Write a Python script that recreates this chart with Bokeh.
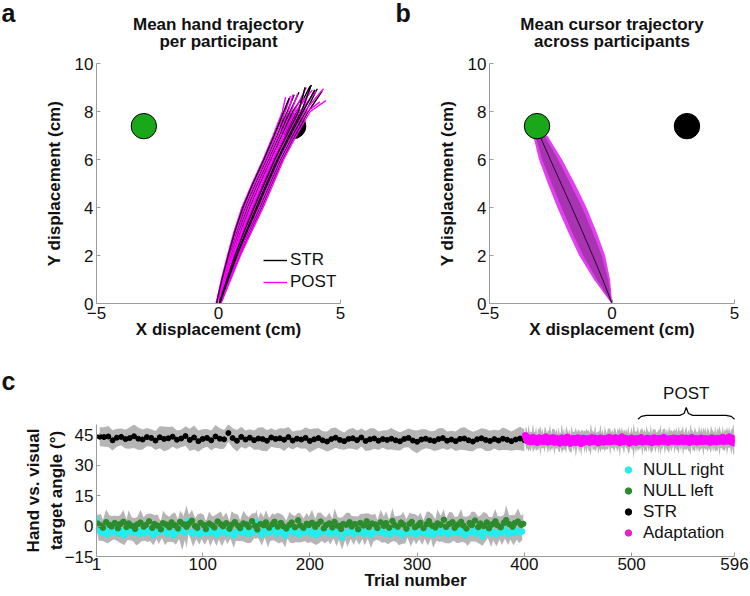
from bokeh.plotting import figure
from bokeh.models import ColumnDataSource, Legend, LegendItem, FixedTicker, Range1d
from bokeh.layouts import column, row
from bokeh.embed import file_html
from bokeh.resources import INLINE
from bokeh.core.properties import value

FONT = "Liberation Sans"

# ---------------- panel a: hand trajectories (x at y = 0..8, then end point) ----------------
hand_y = [0, 1, 2, 3, 4, 5, 6, 7, 8]
str_traj_x = [
    [-0.08, 0.14, 0.40, 0.67, 1.00, 1.41, 1.86, 2.28, 2.68],
    [-0.04, 0.22, 0.51, 0.83, 1.19, 1.61, 2.06, 2.50, 2.93],
    [0.01, 0.32, 0.65, 1.02, 1.42, 1.84, 2.28, 2.75, 3.22],
    [0.05, 0.40, 0.76, 1.17, 1.60, 2.02, 2.45, 2.94, 3.46],
    [0.09, 0.47, 0.86, 1.31, 1.77, 2.19, 2.62, 3.13, 3.68],
    [-0.06, 0.18, 0.46, 0.76, 1.10, 1.52, 1.97, 2.40, 2.82],
    [0.02, 0.34, 0.67, 1.05, 1.46, 1.88, 2.31, 2.79, 3.28],
    [0.07, 0.44, 0.82, 1.25, 1.70, 2.12, 2.55, 3.05, 3.58],
    [-0.02, 0.26, 0.56, 0.90, 1.28, 1.70, 2.14, 2.59, 3.04],
    [0.04, 0.38, 0.73, 1.13, 1.55, 1.97, 2.41, 2.89, 3.40],
]
str_end_x = [2.90, 3.30, 3.75, 3.95, 4.25, 3.10, 3.55, 4.05, 3.45, 3.80]
str_end_y = [8.55, 8.80, 9.05, 8.90, 8.85, 8.70, 9.00, 8.95, 8.60, 9.10]
post_traj_x = [
    [-0.10, 0.12, 0.37, 0.64, 0.96, 1.38, 1.83, 2.24, 2.62],
    [-0.05, 0.20, 0.48, 0.79, 1.14, 1.56, 2.01, 2.44, 2.86],
    [-0.01, 0.28, 0.59, 0.94, 1.32, 1.74, 2.18, 2.64, 3.10],
    [0.03, 0.36, 0.70, 1.09, 1.51, 1.93, 2.36, 2.84, 3.34],
    [0.06, 0.42, 0.79, 1.21, 1.65, 2.07, 2.49, 2.99, 3.52],
    [0.10, 0.50, 0.90, 1.36, 1.83, 2.25, 2.67, 3.19, 3.76],
    [-0.07, 0.16, 0.42, 0.71, 1.05, 1.47, 1.92, 2.34, 2.74],
    [0.00, 0.30, 0.62, 0.98, 1.37, 1.79, 2.23, 2.69, 3.16],
    [0.08, 0.46, 0.84, 1.28, 1.74, 2.16, 2.59, 3.09, 3.64],
    [-0.03, 0.24, 0.54, 0.87, 1.23, 1.65, 2.10, 2.54, 2.98],
    [0.05, 0.39, 0.75, 1.15, 1.58, 2.00, 2.43, 2.92, 3.43],
    [0.02, 0.33, 0.66, 1.04, 1.44, 1.86, 2.30, 2.77, 3.25],
]
post_end_x = [2.75, 3.05, 3.60, 4.00, 4.30, 4.40, 2.95, 3.85, 4.15, 3.25, 3.70, 3.50]
post_end_y = [8.60, 8.70, 9.00, 8.85, 8.95, 8.45, 8.65, 8.90, 8.40, 8.75, 8.80, 8.55]

target_x = [-3.06, 3.06]
target_y = [7.39, 7.39]
target_r = 0.52

# ---------------- panel b: mean cursor trajectory ----------------
cursor_y = [0, 1, 2, 3, 4, 5, 6, 7]
cursor_mean = [0.00, -0.38, -0.79, -1.21, -1.64, -2.08, -2.52, -2.95]
outer_lo = [-0.02, -0.74, -1.34, -1.80, -2.23, -2.62, -2.98, -3.22]
outer_hi = [0.01, -0.08, -0.28, -0.64, -1.04, -1.52, -2.04, -2.64]
inner_lo = [-0.01, -0.62, -1.18, -1.64, -2.06, -2.46, -2.85, -3.13]
inner_hi = [0.00, -0.16, -0.42, -0.80, -1.22, -1.70, -2.20, -2.76]

# ---------------- panel c: angle per trial ----------------
block = ["R", "L", "R", "S", "L", "R", "L", "S"]
xticks_c = [1, 100, 200, 300, 400, 500, 596]
yticks_c = [-15, 0, 15, 30, 45]
post_start, post_end = 506, 596

str_mean = [
    44.0, 43.8, 44.1, 42.2, 43.5, 43.9, 42.8, 43.3, 44.2, 43.0, 42.6, 43.8, 43.4, 42.1, 43.7, 42.9, 43.2, 44.0, 42.5, 43.1,
    44.3, 42.4, 43.6, 41.8, 42.9, 43.4, 42.2, 44.1, 43.0, 42.7, 45.8, 43.3, 42.0, 43.9, 42.6, 43.5, 42.3, 43.1, 42.8, 42.0,
    43.6, 42.9, 43.2, 42.5, 43.8, 42.1, 43.0, 42.6, 43.4, 41.9, 42.7, 43.3, 42.2, 41.6, 42.8, 43.5, 42.4, 41.8, 42.9, 43.2,
    42.3, 43.6, 41.9, 42.7, 43.1, 42.0, 42.8, 42.4, 43.0, 42.2, 41.7, 42.9, 43.4, 42.1, 41.5, 42.6, 43.0, 42.3, 41.9, 42.8,
    43.3, 42.0, 42.6, 41.8, 42.9, 43.1, 42.2, 41.6, 42.7, 43.2, 42.4, 41.9, 42.8, 42.1, 43.0, 42.5, 41.8, 42.6, 43.1, 42.3,
]
str_sd = [
    4.6, 4.8, 5.2, 5.0, 4.4, 4.1, 4.6, 5.3, 5.8, 5.5, 4.9, 4.5, 4.2, 4.7, 5.4, 6.1, 5.6, 5.0, 4.6, 4.3,
    4.8, 5.5, 5.9, 5.2, 4.7, 4.4, 4.9, 5.6, 5.1, 4.6, 4.3, 4.8, 5.3, 5.0, 4.5, 4.2, 4.7, 5.4, 5.8, 5.2,
    4.6, 4.3, 4.9, 5.5, 5.0, 4.4, 4.1, 4.6, 5.2, 5.7, 5.3, 4.8, 4.5, 4.9, 5.4, 5.0, 4.6, 4.2, 4.7, 5.1,
    4.8, 4.4, 4.9, 5.5, 5.1, 4.6, 4.3, 4.8, 5.3, 4.9, 4.5, 4.2, 4.6, 5.2, 5.6, 5.1, 4.7, 4.4, 4.9, 5.4,
    5.0, 4.6, 4.3, 4.8, 5.3, 5.7, 5.2, 4.8, 4.5, 4.9, 5.4, 5.0, 4.6, 4.9, 5.5, 5.1, 4.7, 5.2, 5.8, 5.3,
]
right_mean = [
    3.2, -2.1, -3.5, -1.8, -4.2, -2.6, -3.0, -1.2, -3.8, -2.4, -4.5, -2.9, -1.6, -3.3, -2.7, -4.0, -2.2, -3.6, -1.9, -3.1, -4.4, -2.5, -3.2, -1.4, -2.8,
    -3.9, -2.3, -4.6, -3.0, -1.7, -2.6, -3.4, 2.4, -2.9, -3.7, -2.0, -4.1, -2.8, -3.3, -1.5, -3.6, -2.4, -4.3, -2.7, -3.1, -1.9, -3.8, -2.5, -4.7, -3.0,
    -2.2, -3.5, -1.8, -4.0, -2.6, -3.2, 1.8, -2.9, -4.4, -2.1, -3.6, -2.8, -1.6, -3.9, -2.4, -3.3, -4.8, -2.7, -2.0, -3.5, -2.9, -4.2, -1.7, -3.1, -2.6,
    -3.8, -2.3, -4.5, -2.8, -3.4, -1.9, -3.0, -4.1, -2.5, -3.7, -2.2, -5.6, -2.9, -3.5, -1.8, -4.0, -2.6, -3.2, -2.1, -3.9, -2.7, -4.4, -3.0, -1.6, -3.3,
    -2.4, -3.8, -2.9, -4.2, -2.0, -3.4, -2.7, -4.6, -3.1, -1.8, -3.6, -2.5, -4.0, -2.8, -3.3, -1.5, -3.9, -2.2, -4.3, -3.0, -2.6, -3.7, -2.1, -4.1, -2.8,
    -3.2, -1.9, -3.6, -2.4, -4.5, -2.9, -3.4, -2.0, -3.8, -2.6, -5.2, -3.1, -2.3, -3.7, -2.8, -4.2, -2.5, -3.3, -1.7, -3.9, -2.9, -3.5, -2.2, -3.0, -2.7,
]
right_sd = [
    4.5, 5.2, 3.8, 6.1, 4.4, 5.0, 3.6, 5.7, 4.2, 6.4, 4.8, 3.9, 5.5, 4.1, 6.8, 4.6, 5.3, 3.7, 6.0, 4.3, 5.1, 3.9, 5.8, 4.5, 6.6,
    4.0, 5.4, 3.5, 6.2, 4.7, 9.5, 4.2, 5.6, 3.8, 6.5, 4.4, 5.1, 3.6, 5.9, 4.8, 6.3, 4.1, 5.5, 3.9, 6.7, 4.6, 5.0, 3.7, 6.1, 4.3,
    5.3, 3.9, 6.0, 4.5, 5.6, 3.7, 6.4, 4.2, 5.2, 3.8, 6.9, 4.6, 5.4, 4.0, 6.2, 4.4, 5.8, 3.6, 6.5, 4.7, 5.1, 3.9, 6.1, 4.3, 5.7,
    4.1, 6.3, 4.8, 5.5, 3.8, 6.6, 4.2, 5.0, 3.7, 6.2, 4.5, 5.9, 4.0, 6.8, 4.6, 5.3, 3.9, 6.0, 4.3, 5.6, 3.6, 6.4, 4.8, 5.2, 4.0,
    5.8, 4.2, 6.1, 3.9, 5.4, 4.6, 6.7, 4.1, 5.5, 3.8, 6.3, 4.4, 5.0, 3.7, 6.0, 4.8, 5.7, 4.0, 6.5, 4.3, 5.2, 3.9, 6.2, 4.5, 5.6,
    4.0, 6.4, 4.7, 5.3, 3.8, 6.9, 4.2, 5.6, 3.9, 6.1, 4.5, 5.0, 3.6, 6.6, 4.3, 5.8, 4.1, 6.2, 4.6, 5.4, 3.7, 6.0, 4.4, 5.5, 4.2,
]
left_mean = [
    1.2, 0.3, -0.8, 1.9, 0.6, -0.2, 1.5, -1.1, 0.9, 2.1, -0.5, 1.3, 0.1, -1.4, 0.8, 1.7, -0.3, 0.5, 2.3, -0.9, 1.0, 0.2, -1.6, 1.4, 0.7,
    -0.6, 1.8, 0.4, -1.2, 2.0, 0.9, -0.4, 1.1, 2.6, 0.0, -0.9, 1.6, 0.5, -1.5, 1.2, 0.3, -0.7, 2.2, 0.8, -0.1, 1.4, -1.3, 0.6, 1.9, 0.2,
    -1.0, 1.3, 0.7, -0.5, 2.4, 0.1, -1.7, 1.0, 0.4, 1.8, -0.8, 0.9, 2.1, -0.3, 1.5, 0.0, -1.2, 0.6, 1.7, -0.6, 2.8, 0.3, -0.9, 1.1, 0.5,
    1.6, -0.4, 0.8, 2.2, -1.1, 0.4, 1.3, -0.7, 2.0, 0.2, -1.4, 1.0, 0.6, 1.9, -0.2, 0.9, -1.6, 1.5, 0.3, 2.3, -0.5, 1.2, 0.7, -1.0, 1.8,
    0.1, 1.4, -0.8, 2.5, 0.5, -0.3, 1.7, 0.8, -1.3, 1.1, 2.0, -0.6, 0.4, 1.6, -1.0, 0.9, 2.4, 0.2, -0.7, 1.3, 0.6, 3.1, -0.4, 1.0, 1.9,
    -0.9, 0.7, 2.1, 0.3, -1.2, 1.5, 0.5, 2.7, -0.5, 1.2, 0.0, 1.8, -1.1, 0.8, 2.3, 0.4, -0.6, 1.6, 2.9, 0.9, -0.3, 1.4, 2.2, 0.6, 1.1,
]
left_sd = [
    4.2, 5.6, 3.9, 6.3, 4.7, 5.1, 3.6, 6.0, 4.4, 5.8, 3.8, 6.5, 4.1, 5.3, 3.7, 6.2, 4.6, 5.0, 3.9, 6.8, 4.3, 5.5, 3.6, 6.1, 4.8,
    5.2, 4.0, 6.4, 4.5, 5.7, 3.8, 10.5, 4.2, 5.4, 3.9, 6.6, 4.7, 5.1, 3.7, 6.0, 4.4, 5.9, 4.0, 6.3, 4.6, 5.3, 3.8, 6.7, 4.2, 5.5,
    3.9, 6.2, 4.5, 5.0, 3.7, 6.5, 4.3, 5.8, 4.0, 6.1, 4.7, 5.4, 3.6, 6.9, 4.4, 5.2, 3.9, 6.3, 4.1, 5.6, 3.8, 6.0, 4.6, 5.3, 4.2,
    6.4, 4.0, 5.7, 4.5, 6.1, 3.8, 5.2, 4.3, 6.6, 4.1, 5.5, 3.7, 6.0, 4.6, 5.1, 3.9, 6.3, 4.4, 5.8, 4.0, 6.7, 4.2, 5.4, 3.8, 6.2,
    4.5, 5.9, 3.9, 6.4, 4.2, 5.3, 3.7, 6.1, 4.8, 5.6, 4.0, 6.5, 4.3, 5.0, 3.8, 6.2, 4.6, 5.7, 4.1, 7.0, 4.4, 5.2, 3.9, 6.0, 4.7,
    5.4, 4.1, 6.3, 4.5, 5.8, 3.8, 6.6, 4.2, 5.1, 4.0, 6.9, 4.4, 5.5, 3.7, 6.1, 4.6, 5.3, 4.0, 7.2, 4.3, 5.7, 3.9, 6.4, 4.5, 5.0,
]
adapt_mean = [
    44.5, 42.8, 41.9, 43.3, 42.1, 41.5, 42.9, 43.6, 41.8, 42.4, 43.0, 41.2, 42.7, 43.4, 41.9, 42.3, 43.1, 41.6, 42.5, 43.8, 42.0, 41.4, 42.8, 43.2, 41.7, 42.6, 43.5, 41.3,
    42.2, 43.0, 41.8, 42.7, 40.9, 42.4, 43.3, 41.6, 42.9, 41.1, 42.5, 43.7, 41.9, 42.3, 40.8, 42.6, 43.1, 41.5, 42.8, 41.2, 42.0, 43.4, 41.7, 42.4, 40.7, 42.9, 43.2, 41.4,
    42.6, 41.9, 43.0, 42.2, 41.3, 42.8, 43.5, 41.8, 42.1, 43.2, 41.6, 42.7, 41.0, 42.4, 43.3, 41.9, 42.6, 41.4, 43.0, 42.3, 41.7, 42.9, 43.6, 41.5, 42.2, 43.1, 41.8, 42.5,
    43.4, 41.7, 42.3, 42.9, 41.2, 42.6, 43.8, 42.0, 41.5, 42.8, 43.1, 41.9, 42.4, 40.9, 42.7, 43.3, 41.6, 42.1, 42.9, 41.3, 42.5, 43.0, 41.8, 42.2, 43.5, 41.4, 42.6, 42.0,
    41.7, 42.9, 43.2, 41.5, 42.3, 42.8, 41.1, 42.6, 43.4, 41.9, 42.0, 42.7, 41.4, 43.1, 42.4, 41.8, 42.9, 43.6, 41.6, 42.2, 42.8, 41.3, 42.5, 43.0, 41.9, 42.3, 43.3, 41.7,
    42.6, 43.1, 41.5, 42.4, 42.9, 41.8, 43.4, 42.1, 41.6, 42.7, 43.2, 41.9, 42.3, 41.2, 42.8, 43.5, 42.0, 41.7, 42.6, 43.0, 41.4, 42.4, 42.9, 41.8, 43.3, 42.2, 41.6, 42.7,
    43.0, 41.9, 42.5, 42.8, 41.3, 42.6, 43.4, 41.7, 42.2, 42.9, 41.5, 42.4, 43.1, 41.8, 42.7, 42.0, 43.6, 41.6, 42.3, 42.9, 41.9, 42.5, 43.8, 42.2, 41.4, 43.2, 42.6, 40.9,
]
adapt_sd = [
    4.2, 5.6, 3.5, 6.8, 4.0, 5.1, 3.3, 7.2, 4.6, 3.8, 6.0, 3.4, 5.4, 4.1, 7.5, 3.7, 4.9, 3.2, 6.3, 4.4, 3.6, 5.8, 4.0, 7.0, 3.5, 5.2, 4.3, 6.6,
    3.9, 5.0, 3.4, 6.2, 4.5, 3.6, 7.8, 4.1, 5.3, 3.3, 6.7, 4.0, 3.7, 5.6, 4.2, 6.9, 3.5, 4.8, 3.9, 7.3, 4.3, 3.6, 5.9, 3.8, 6.4, 4.6, 3.4, 5.5,
    4.0, 6.1, 3.7, 5.2, 4.4, 8.2, 3.6, 4.9, 3.9, 6.5, 4.2, 3.5, 5.7, 4.1, 7.1, 3.8, 5.0, 3.4, 6.3, 4.5, 3.7, 5.4, 4.0, 6.8, 3.6, 4.7, 3.9, 6.0,
    4.3, 3.6, 5.8, 4.0, 7.4, 3.7, 5.1, 4.2, 6.2, 3.5, 4.8, 3.9, 6.9, 4.4, 3.6, 5.5, 4.1, 9.0, 3.8, 5.3, 4.0, 6.4, 3.5, 4.9, 4.3, 7.0, 3.7, 5.6,
    4.1, 6.6, 3.8, 5.0, 3.6, 7.2, 4.3, 5.4, 3.9, 6.1, 4.0, 3.5, 5.9, 4.2, 7.6, 3.7, 4.8, 4.0, 6.5, 3.6, 5.2, 4.4, 6.8, 3.8, 5.5, 4.1, 3.6, 6.2,
    3.9, 5.7, 4.2, 6.9, 3.6, 5.1, 4.0, 7.3, 3.8, 4.6, 6.0, 3.5, 5.4, 4.3, 8.0, 3.7, 5.0, 4.1, 6.3, 3.9, 4.8, 3.6, 6.7, 4.2, 5.3, 3.8, 7.1, 4.0,
    5.6, 3.7, 6.2, 4.4, 3.9, 7.0, 4.1, 5.2, 3.6, 6.5, 4.0, 5.8, 3.8, 7.4, 4.3, 3.5, 6.0, 4.2, 5.5, 3.9, 6.9, 4.1, 5.1, 3.7, 6.4, 4.5, 7.8, 4.8,
]

# ---------------- colours ----------------
C_AXIS = "#9c9c9c"
C_TEXT = "#111111"
C_GREEN_T = "#1aa81a"
C_MAG = "#ff00ff"
C_CYAN = "#22eeee"
C_GREEN = "#2a8c2a"
C_BAND = "#b5b5b5"

# ---------------- layout geometry (pixels) ----------------
TOTAL_W = 750
HEAD_H = 53
A_LEFT, A_FRAME, A_RIGHT = 96, 244, 35
B_LEFT, B_FRAME, B_RIGHT = 114, 245, 16
TOP_FRAME_H, TOP_BORDER_T, TOP_BORDER_B = 240, 10, 41
C_LEFT, C_FRAME, C_RIGHT = 96, 638, 16
C_FRAME_H, C_BORDER_B = 132, 38
C_HEAD_H = 80
C_YMIN, C_YMAX = -15, 50


def style(p, xt, yt):
    p.xaxis.ticker = FixedTicker(ticks=xt)
    p.yaxis.ticker = FixedTicker(ticks=yt)
    for ax in (p.xaxis[0], p.yaxis[0]):
        ax.axis_line_color = C_AXIS
        ax.major_tick_line_color = C_AXIS
        ax.major_tick_in = 4
        ax.major_tick_out = 0
        ax.minor_tick_line_color = None
        ax.major_label_text_font = FONT
        ax.major_label_text_font_size = "17px"
        ax.major_label_text_color = C_TEXT
        ax.axis_label_text_font = FONT
        ax.axis_label_text_font_size = "17px"
        ax.axis_label_text_font_style = "bold"
        ax.axis_label_text_color = C_TEXT
    p.xaxis.major_label_standoff = 3
    p.xaxis.axis_label_standoff = -2
    p.yaxis.major_label_standoff = 3
    p.yaxis.axis_label_standoff = 8
    p.xgrid.visible = False
    p.ygrid.visible = False
    p.outline_line_color = None


def blank(width, height, xr, yr):
    p = figure(width=width, height=height, x_range=Range1d(*xr), y_range=Range1d(*yr),
               output_backend="svg", toolbar_location=None,
               x_axis_location=None, y_axis_location=None,
               min_border_left=0, min_border_right=0, min_border_top=0, min_border_bottom=0)
    p.frame_align = False
    p.xgrid.visible = False
    p.ygrid.visible = False
    p.outline_line_color = None
    return p


def texts(p, xs, ys, labels, size, bold=True, align="center"):
    p.text(x=xs, y=ys, text=labels, text_font=value(FONT), text_font_size=size,
           text_font_style="bold" if bold else "normal", text_color=C_TEXT,
           text_align=align, text_baseline="middle")


def top_panel(left_border, frame_w, right_border):
    p = figure(frame_width=frame_w, frame_height=TOP_FRAME_H,
               x_range=Range1d(-5, 5), y_range=Range1d(0, 10),
               output_backend="svg", toolbar_location=None,
               min_border_left=left_border, min_border_right=right_border,
               min_border_top=TOP_BORDER_T, min_border_bottom=TOP_BORDER_B)
    style(p, [-5, 0, 5], [0, 2, 4, 6, 8, 10])
    p.xaxis.axis_label = "X displacement (cm)"
    p.yaxis.axis_label = "Y displacement (cm)"
    return p


# ================= header with titles and panel letters (page pixel units, y downwards) =================
head = blank(TOTAL_W, HEAD_H, (0, TOTAL_W), (HEAD_H, 0))
a_center = A_LEFT + A_FRAME / 2
b_left = A_LEFT + A_FRAME + A_RIGHT
b_center = b_left + B_LEFT + B_FRAME / 2
texts(head, [a_center, a_center, b_center, b_center], [23.6, 40.6, 23.6, 40.6],
      ["Mean hand trajectory", "per participant", "Mean cursor trajectory", "across participants"], "17px")
texts(head, [1, b_left + 20], [12.5, 12.5], ["a", "b"], "25px", align="left")

# ================= panel a =================
pa = top_panel(A_LEFT, A_FRAME, A_RIGHT)
pa.circle(x=[target_x[1]], y=[target_y[1]], radius=target_r, fill_color="black", line_color="black")
pa.circle(x=[target_x[0]], y=[target_y[0]], radius=target_r, fill_color=C_GREEN_T, line_color="black", line_width=1)
s_xs = [xs + [ex] for xs, ex in zip(str_traj_x, str_end_x)]
s_ys = [hand_y + [ey] for ey in str_end_y]
p_xs = [xs + [ex] for xs, ex in zip(post_traj_x, post_end_x)]
p_ys = [hand_y + [ey] for ey in post_end_y]
r_s = pa.multi_line(xs=s_xs, ys=s_ys, line_color="black", line_width=1.4)
r_p = pa.multi_line(xs=p_xs, ys=p_ys, line_color=C_MAG, line_width=1.4)
pa.multi_line(xs=s_xs[::3], ys=s_ys[::3], line_color="black", line_width=1.1)
leg_a = Legend(items=[LegendItem(label="STR", renderers=[r_s]), LegendItem(label="POST", renderers=[r_p])],
               location=(167, 10), background_fill_alpha=0, border_line_color=None,
               label_text_font=FONT, label_text_font_size="17px", label_text_color=C_TEXT,
               glyph_width=24, glyph_height=22, label_height=22, spacing=0, padding=0, margin=0,
               label_standoff=3)
pa.add_layout(leg_a)

# ================= panel b =================
pb = top_panel(B_LEFT, B_FRAME, B_RIGHT)
pb.harea(y=cursor_y, x1=outer_lo, x2=outer_hi, fill_color="#e23ff0", fill_alpha=1.0)
pb.harea(y=cursor_y, x1=inner_lo, x2=inner_hi, fill_color="#a834b2", fill_alpha=1.0)
pb.line(x=cursor_mean, y=cursor_y, line_color="#2a0630", line_width=1)
pb.circle(x=[target_x[1]], y=[target_y[1]], radius=target_r, fill_color="black", line_color="black")
pb.circle(x=[target_x[0]], y=[target_y[0]], radius=target_r, fill_color=C_GREEN_T, line_color="black", line_width=1)

# ================= panel c =================
px_per_trial = C_FRAME / (xticks_c[-1] - xticks_c[0])
px_per_deg = C_FRAME_H / (C_YMAX - C_YMIN)
pc = figure(frame_width=C_FRAME, frame_height=C_FRAME_H,
            x_range=Range1d(xticks_c[0], xticks_c[-1]), y_range=Range1d(C_YMIN, C_YMAX),
            output_backend="svg", toolbar_location=None,
            min_border_left=C_LEFT, min_border_right=C_RIGHT, min_border_top=0, min_border_bottom=C_BORDER_B)
style(pc, xticks_c, yticks_c)
pc.xaxis.axis_label = "Trial number"
pc.yaxis.axis_label = "Hand vs. visual\ntarget angle (°)"
pc.yaxis.axis_label_standoff = -4
pc.xaxis.major_label_standoff = 1


def cond(values, sds, trials):
    n = min(len(values), len(sds), len(trials))
    v, s, t = values[:n], sds[:n], trials[:n]
    return ColumnDataSource(dict(t=t, v=v, lo=[a - b for a, b in zip(v, s)], hi=[a + b for a, b in zip(v, s)]))


types = [block[(t - 1) % len(block)] for t in range(1, 401)]
src_r = cond(right_mean, right_sd, [t for t in range(1, 401) if types[t - 1] == "R"])
src_l = cond(left_mean, left_sd, [t for t in range(1, 401) if types[t - 1] == "L"])
src_s = cond(str_mean, str_sd, [t for t in range(1, 401) if types[t - 1] == "S"])
src_a = cond(adapt_mean, adapt_sd, list(range(401, 401 + len(adapt_mean))))

for src in (src_s, src_r, src_l, src_a):
    pc.varea(x="t", y1="lo", y2="hi", source=src, fill_color=C_BAND)

pc.scatter(x="t", y="v", source=src_r, size=5.5, fill_color=C_CYAN, line_color=C_CYAN)
pc.scatter(x="t", y="v", source=src_l, size=5.5, fill_color=C_GREEN, line_color=C_GREEN)
pc.scatter(x="t", y="v", source=src_s, size=5, fill_color="black", line_color="black")
pc.scatter(x="t", y="v", source=src_a, size=6.5, fill_color=C_MAG, line_color=C_MAG)

# legend glyphs (larger markers, nothing drawn in the plot)
nan = float("nan")
lg = []
for name, col in [("NULL right", C_CYAN), ("NULL left", C_GREEN), ("STR", "black"), ("Adaptation", "#ee1ecc")]:
    r = pc.scatter(x=[nan], y=[nan], size=10, fill_color=col, line_color=col)
    lg.append(LegendItem(label=name, renderers=[r]))
leg_c = Legend(items=lg, location=(524, 13), background_fill_alpha=0, border_line_color=None,
               label_text_font=FONT, label_text_font_size="17px", label_text_color=C_TEXT,
               glyph_width=16, glyph_height=21, label_height=21, spacing=0, padding=0, margin=0,
               label_standoff=7)
pc.add_layout(leg_c)

# header of panel c: bracket, POST label and panel letter, in the same trial/degree units
hx0 = xticks_c[0] - C_LEFT / px_per_trial
hx1 = xticks_c[-1] + C_RIGHT / px_per_trial
chead = blank(TOTAL_W, C_HEAD_H, (hx0, hx1), (C_YMAX, C_YMAX + C_HEAD_H / px_per_deg))
mid = (post_start + post_end) / 2
bx = [post_start, post_start + 3, post_start + 8, mid - 6, mid - 2, mid, mid + 2, mid + 6, post_end - 8, post_end - 3, post_end]
by = [52.6, 54.0, 54.5, 54.5, 55.4, 58.4, 55.4, 54.5, 54.5, 54.0, 52.6]
chead.line(x=bx, y=by, line_color="black", line_width=1.2)
texts(chead, [mid], [65.3], ["POST"], "17px", bold=False)
texts(chead, [hx0 + 1 / px_per_trial], [71.2], ["c"], "25px", align="left")

layout = column(head, row(pa, pb), chead, pc)
open("out.html", "w").write(file_html(layout, INLINE))
